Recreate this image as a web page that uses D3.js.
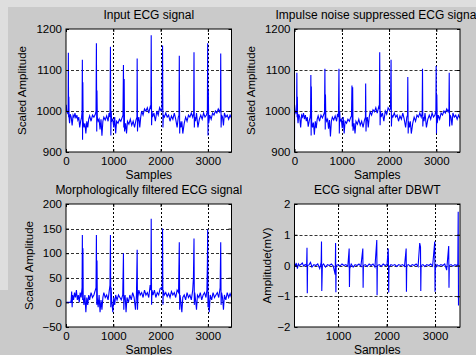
<!DOCTYPE html>
<html>
<head>
<meta charset="utf-8">
<script src="https://cdn.jsdelivr.net/npm/d3@7"></script>
<style>
  body { margin: 0; background: #cacaca; }
  svg { display: block; }
  text { font-family: "Liberation Sans", Arial, sans-serif; fill: #000; }
</style>
</head>
<body>
<svg id="chart" width="476" height="355"></svg>
<script>
// tick labels
const xTicks = [0, 1000, 2000, 3000];
const xTicksDbwt = [1000, 2000, 3000];
const yTicksAmp = [900, 1000, 1100, 1200];
const yTicksMorph = [-50, 0, 50, 100, 150, 200];
const yTicksDbwt = [-2, -1, 0, 1, 2];

// [sample, value]
const inputEcg = [
  [0,1000],[5,1015],[15,1000],[30,995],[45,1000],[50,1142],[55,985],[60,1035],[65,985],[75,970],[90,992],[110,985],[130,965],[150,990],[170,985],[190,995],[210,982],[230,990],[250,978],[270,985],[290,960],[310,975],[330,985],[340,1000],
  [346,1125],[350,930],[356,1070],[362,975],[380,960],[400,970],[420,945],[440,975],[460,960],[480,980],[500,988],[530,975],[560,990],[590,985],[620,992],[635,1000],
  [643,1165],[650,950],[655,1050],[662,985],[680,975],[700,980],[720,955],[740,980],[760,940],[780,975],[800,985],[830,978],[860,988],[890,975],[910,995],[930,985],
  [940,1157],[948,940],[955,1000],[965,975],[990,980],[1010,960],[1030,985],[1050,945],[1070,975],[1100,970],[1130,980],[1160,975],[1190,985],[1205,990],
  [1215,1112],[1222,960],[1230,1078],[1238,950],[1260,970],[1280,945],[1300,975],[1330,968],[1360,980],[1390,965],[1420,975],[1450,960],[1480,978],[1500,985],
  [1505,1128],[1512,950],[1520,975],[1540,985],[1560,960],[1580,985],[1600,1000],[1630,990],[1660,1005],[1690,1000],[1720,1008],[1750,995],[1780,1010],[1795,1005],
  [1802,1185],[1810,965],[1818,1000],[1830,985],[1860,995],[1890,975],[1920,1000],[1950,990],[1980,1008],[2010,1000],[2030,1005],
  [2042,1160],[2050,960],[2058,990],[2080,985],[2110,995],[2140,985],[2170,990],[2200,975],[2230,988],[2260,980],[2290,995],[2320,980],[2350,960],[2375,985],[2390,990],
  [2396,1135],[2404,945],[2412,975],[2430,960],[2450,975],[2470,945],[2500,970],[2530,985],[2560,975],[2590,990],[2620,985],[2650,995],[2680,985],[2700,995],
  [2707,1143],[2714,960],[2722,985],[2740,975],[2760,995],[2790,960],[2820,980],[2850,990],[2880,980],[2910,995],[2940,985],[2970,990],[2990,1000],
  [2996,1165],[3003,940],[3010,1050],[3018,970],[3040,990],[3070,980],[3100,995],[3130,990],[3160,1000],[3190,995],[3220,1005],[3250,998],[3266,1005],
  [3272,1140],[3280,960],[3290,990],[3310,985],[3330,965],[3350,995],[3380,985],[3410,990],[3440,980],[3470,990],[3500,982]
];

const suppressedEcg = [
  [0,900],[2,1015],[15,1000],[30,995],[45,1000],[50,1093],[55,985],[60,1035],[65,985],[75,970],[90,992],[110,985],[130,960],[150,990],[170,985],[190,995],[210,980],[230,990],[250,975],[270,985],[290,962],[310,975],[330,985],[340,995],
  [346,1088],[352,940],[356,1060],[362,975],[380,960],[400,972],[420,942],[440,975],[460,958],[480,980],[500,988],[530,975],[560,990],[590,983],[620,992],[635,998],
  [643,1103],[650,955],[655,1040],[662,985],[680,975],[700,980],[720,957],[740,978],[760,938],[780,975],[800,985],[830,978],[860,988],[890,975],[910,993],[930,985],
  [940,1103],[948,945],[955,1000],[965,975],[990,980],[1010,958],[1030,985],[1050,945],[1070,975],[1100,970],[1130,980],[1160,975],[1190,985],[1205,988],
  [1215,1062],[1222,962],[1230,1058],[1238,952],[1260,970],[1280,945],[1300,975],[1330,968],[1360,980],[1390,965],[1420,975],[1450,960],[1480,978],[1500,985],
  [1505,1067],[1512,950],[1520,975],[1540,985],[1560,960],[1580,985],[1600,998],[1630,990],[1660,1003],[1690,998],[1720,1008],[1750,995],[1780,1010],[1795,1005],
  [1802,1143],[1810,965],[1818,1000],[1830,985],[1860,995],[1890,975],[1920,1000],[1950,992],[1980,1008],[2010,1002],[2030,1006],
  [2042,1125],[2050,962],[2058,990],[2080,985],[2110,995],[2140,985],[2170,990],[2200,975],[2230,988],[2260,980],[2290,995],[2320,980],[2350,960],[2375,985],[2390,990],
  [2396,1083],[2404,945],[2412,975],[2430,960],[2450,975],[2470,945],[2500,970],[2530,985],[2560,975],[2590,990],[2620,985],[2650,995],[2680,985],[2700,995],
  [2707,1103],[2714,962],[2722,985],[2740,975],[2760,995],[2790,960],[2820,980],[2850,990],[2880,980],[2910,995],[2940,985],[2970,990],[2990,1000],
  [2996,1110],[3003,945],[3010,1040],[3018,970],[3040,990],[3070,980],[3100,995],[3130,990],[3160,1000],[3190,995],[3220,1005],[3250,998],[3266,1005],
  [3272,1093],[3280,962],[3290,990],[3310,985],[3330,965],[3350,995],[3380,985],[3410,990],[3440,980],[3470,990],[3500,982]
];

const morphEcg = [
  [0,0],[100,0],[110,5],[120,22],[130,-10],[140,15],[160,5],[180,20],[200,10],[220,25],[240,5],[260,15],[280,0],[300,20],[320,10],[340,30],
  [346,137],[352,5],[358,110],[364,10],[380,-5],[400,15],[420,-20],[440,10],[460,-5],[480,15],[500,5],[530,20],[560,10],[590,15],[620,25],[635,30],
  [643,137],[650,-5],[656,85],[662,10],[680,-10],[700,15],[720,-20],[740,5],[760,-15],[780,10],[800,20],[830,10],[860,15],[890,5],[910,20],[930,35],
  [940,137],[947,-10],[954,30],[965,5],[990,-20],[1010,10],[1030,-5],[1050,15],[1080,5],[1110,15],[1140,10],[1170,5],[1200,15],
  [1215,100],[1222,-15],[1230,5],[1250,15],[1270,-20],[1290,10],[1320,0],[1350,15],[1380,5],[1410,20],[1440,10],[1470,-15],[1490,15],
  [1505,107],[1512,-15],[1520,10],[1540,25],[1570,15],[1600,20],[1630,10],[1660,25],[1690,15],[1720,20],[1750,10],[1780,35],[1795,25],
  [1802,170],[1810,-5],[1818,25],[1840,15],[1870,25],[1900,10],[1930,20],[1960,15],[1990,28],[2020,30],[2035,25],
  [2042,150],[2050,-5],[2058,25],[2080,15],[2110,20],[2140,12],[2170,18],[2200,10],[2230,22],[2260,15],[2290,20],[2320,10],[2350,25],[2380,20],
  [2396,122],[2404,-15],[2412,15],[2430,0],[2450,-20],[2470,10],[2500,15],[2530,5],[2560,20],[2590,10],[2620,15],[2650,5],[2680,25],[2695,50],
  [2707,130],[2714,-5],[2722,20],[2740,5],[2760,-15],[2780,15],[2810,10],[2840,20],[2870,5],[2900,15],[2930,20],[2960,10],[2980,25],[2990,80],
  [2996,148],[3003,-10],[3010,20],[3030,-20],[3050,15],[3080,5],[3110,20],[3140,10],[3170,15],[3200,20],[3230,10],[3260,30],
  [3272,122],[3280,-5],[3290,20],[3310,10],[3330,-15],[3350,15],[3380,5],[3410,20],[3440,10],[3470,18],[3500,10]
];

const dbwtEcg = [
  [100,0.1],[120,0],[140,0.05],[160,-0.1],[180,0.05],[200,0],[230,0.03],[260,0.08],[290,-0.02],[320,0.03],[350,0],
  [358,0.58],[364,-0.9],[370,0],[400,0.02],[430,0.1],[460,-0.05],[500,0.03],[540,0],[580,0.05],[620,-0.1],[650,0.1],
  [657,0.78],[663,-0.83],[668,-0.5],[675,0],[700,0.05],[740,-0.05],[780,0.03],[820,0],[860,0.05],[900,-0.02],[940,-0.3],
  [948,0.73],[954,-0.87],[960,0],[1000,0.03],[1040,-0.02],[1080,0.05],[1120,0],[1160,0.03],[1200,-0.03],
  [1228,0.55],[1234,-0.7],[1240,-0.1],[1270,0.05],[1310,-0.05],[1350,0.03],[1390,0],[1430,0.05],[1470,-0.03],
  [1510,0.55],[1516,-0.72],[1522,0],[1560,0.03],[1600,-0.03],[1640,0.05],[1680,0],[1720,0.05],[1760,-0.05],
  [1798,0.83],[1804,-0.97],[1810,0],[1850,0.03],[1890,-0.03],[1930,0.05],[1970,0],[2010,0.03],
  [2034,0.55],[2038,0.25],[2044,-0.88],[2050,-0.05],[2090,0.03],[2130,0],[2170,0.03],[2210,-0.03],[2250,0.03],[2290,0],[2330,0.03],[2370,-0.03],
  [2404,0.55],[2410,-0.85],[2416,0],[2450,0.03],[2490,-0.02],[2530,0.03],[2570,0],[2610,0.05],[2650,-0.03],
  [2684,0.73],[2700,0.6],[2706,-0.83],[2712,0],[2750,0.03],[2790,-0.03],[2830,0.03],[2870,0],[2910,0.05],[2950,-0.02],
  [2994,0.78],[3000,-0.85],[3006,-0.1],[3040,0.03],[3080,-0.02],[3120,0.03],[3160,0],[3200,0.05],[3240,-0.15],
  [3282,0.63],[3288,-0.72],[3294,0],[3330,0.03],[3370,-0.02],[3410,0.03],[3440,0],[3470,0.03],
  [3478,1.75],[3484,-1.3]
];

const panels = [
  { data: inputEcg, title: 'Input ECG signal', ylabel: 'Scaled Amplitude',
    left: 66, right: 231.5, top: 29, bottom: 152, xDomain: [0, 3500], yDomain: [900, 1200],
    xt: xTicks, yt: yTicksAmp, ylabelX: 22 },
  { data: suppressedEcg, title: 'Impulse noise suppressed ECG signal', ylabel: 'Scaled Amplitude',
    left: 294.5, right: 460, top: 29, bottom: 152, xDomain: [0, 3500], yDomain: [900, 1200],
    xt: xTicks, yt: yTicksAmp, ylabelX: 250.5 },
  { data: morphEcg, title: 'Morphologically filtered ECG signal', ylabel: 'Scaled Amplitude',
    left: 66, right: 231.5, top: 204, bottom: 327, xDomain: [0, 3500], yDomain: [-50, 200],
    xt: xTicks, yt: yTicksMorph, ylabelX: 29 },
  { data: dbwtEcg, title: 'ECG signal after DBWT', ylabel: 'Amplitude(mV)',
    left: 294.5, right: 460, top: 204, bottom: 327, xDomain: [100, 3515], yDomain: [-2, 2],
    xt: xTicksDbwt, yt: yTicksDbwt, ylabelX: 267 }
];

const svg = d3.select('#chart');

// lighter window edge
svg.append('rect').attr('x', 0).attr('y', 0).attr('width', 476).attr('height', 7).attr('fill', '#dedede');
svg.append('rect').attr('x', 0).attr('y', 0).attr('width', 8).attr('height', 290).attr('fill', '#dedede');

panels.forEach((p, i) => {
  const x = d3.scaleLinear().domain(p.xDomain).range([p.left, p.right]);
  const y = d3.scaleLinear().domain(p.yDomain).range([p.bottom, p.top]);
  const g = svg.append('g');

  g.append('rect')
    .attr('x', p.left).attr('y', p.top)
    .attr('width', p.right - p.left).attr('height', p.bottom - p.top)
    .attr('fill', '#fff');

  // grid
  g.selectAll('.vgrid').data(p.xt.filter(d => x(d) > p.left + 1 && x(d) < p.right - 1))
    .enter().append('line')
    .attr('x1', d => Math.round(x(d)) + 0.5).attr('x2', d => Math.round(x(d)) + 0.5)
    .attr('y1', p.top).attr('y2', p.bottom)
    .attr('stroke', '#000').attr('stroke-dasharray', '2,2');
  g.selectAll('.hgrid').data(p.yt.filter(d => y(d) > p.top + 1 && y(d) < p.bottom - 1))
    .enter().append('line')
    .attr('y1', d => Math.round(y(d)) + 0.5).attr('y2', d => Math.round(y(d)) + 0.5)
    .attr('x1', p.left).attr('x2', p.right)
    .attr('stroke', '#333').attr('stroke-dasharray', '3,2');

  // signal
  const clipId = 'clip' + i;
  g.append('clipPath').attr('id', clipId).append('rect')
    .attr('x', p.left).attr('y', p.top)
    .attr('width', p.right - p.left).attr('height', p.bottom - p.top);

  const line = d3.line().x(d => x(d[0])).y(d => y(d[1]));
  g.append('path')
    .datum(p.data)
    .attr('clip-path', `url(#${clipId})`)
    .attr('fill', 'none')
    .attr('stroke', '#0000ff')
    .attr('stroke-width', 1.1)
    .attr('d', line);

  // axes, ticks pointing inward like matlab
  const ax = (a, ty) => g.append('g').attr('transform', ty).call(a)
    .call(s => s.select('.domain').remove())
    .call(s => s.selectAll('text').style('font-size', '11.5px').style('font-family', '"Liberation Sans", Arial, sans-serif'))
    .call(s => s.selectAll('line').attr('stroke', '#000'));

  ax(d3.axisBottom(x).tickValues(p.xt).tickSize(-3).tickPadding(5).tickFormat(d3.format('d')), `translate(0,${p.bottom})`);
  ax(d3.axisTop(x).tickValues(p.xt).tickSize(-3).tickFormat(''), `translate(0,${p.top})`);
  ax(d3.axisLeft(y).tickValues(p.yt).tickSize(-3).tickPadding(4).tickFormat(d3.format('d')), `translate(${p.left},0)`);
  ax(d3.axisRight(y).tickValues(p.yt).tickSize(-3).tickFormat(''), `translate(${p.right},0)`);

  g.append('rect')
    .attr('x', p.left).attr('y', p.top)
    .attr('width', p.right - p.left).attr('height', p.bottom - p.top)
    .attr('fill', 'none').attr('stroke', '#000').attr('stroke-width', 1);

  // texts
  g.append('text')
    .attr('x', (p.left + p.right) / 2).attr('y', p.top - 10)
    .attr('text-anchor', 'middle').style('font-size', '12px')
    .text(p.title);
  g.append('text')
    .attr('x', (p.left + p.right) / 2).attr('y', p.bottom + 27)
    .attr('text-anchor', 'middle').style('font-size', '12px')
    .text('Samples');
  g.append('text')
    .attr('transform', `translate(${p.ylabelX},${(p.top + p.bottom) / 2}) rotate(-90)`)
    .attr('dy', '0.35em')
    .attr('text-anchor', 'middle').style('font-size', '11.5px')
    .text(p.ylabel);
});
</script>
</body>
</html>
